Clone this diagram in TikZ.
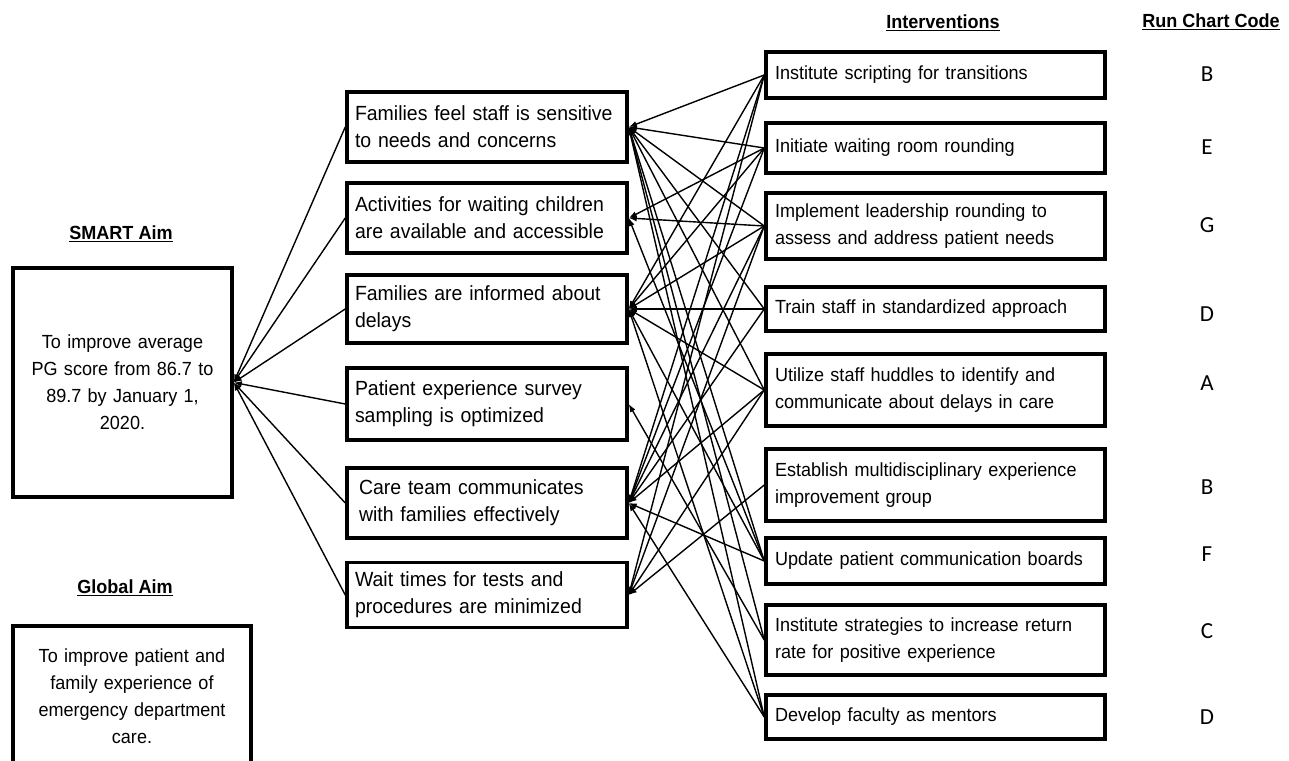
\documentclass[tikz,border=0pt]{standalone}
\usepackage{fontspec}
\setmainfont{Liberation Sans}[FakeStretch=0.95]
\newfontfamily\codefont{Carlito}
\usetikzlibrary{arrows.meta}

\tikzset{
  box/.style={draw, line width=3.5pt, inner sep=0pt, font=\fontsize{19}{27}\selectfont},
  driver/.style={box, minimum width=280pt, text width=264pt, align=left, font=\fontsize{20.5}{27}\selectfont},
  change/.style={box, minimum width=339pt, text width=321pt, align=left},
  aim/.style={box, align=center},
  head/.style={font=\fontsize{19}{23}\selectfont\bfseries},
  code/.style={font=\codefont\fontsize{23}{27}\selectfont},
  link/.style={line width=1.4pt, -{Latex[length=8pt,width=6pt]}},
}

\begin{document}
\begin{tikzpicture}[x=1pt,y=-1pt]
\useasboundingbox (0,0) rectangle (1289,760);

% headings
\node[head] (smarthead) at (121,234) {\underline{SMART Aim}};
\node[head] (globalhead) at (125,588) {\underline{Global Aim}};
\node[head] (ivhead) at (943,23) {\underline{Interventions}};
\node[head] (codehead) at (1211,22) {\underline{Run Chart Code}};

% aims
\node[aim, minimum width=219pt, minimum height=229pt, text width=199pt] (smart) at (122.5,382.5)
  {To improve average\\PG score from 86.7 to\\89.7 by January 1,\\2020.};
\node[aim, minimum width=238pt, minimum height=140pt, text width=218pt] (global) at (132,696)
  {To improve patient and\\family experience of\\emergency department\\care.};

% key drivers
\node[driver, minimum height=70pt] (feel) at (487,127) {Families feel staff is sensitive\\to needs and concerns};
\node[driver, minimum height=70pt] (play) at (487,218) {Activities for waiting children\\are available and accessible};
\node[driver, minimum height=68pt] (delay) at (487,309) {Families are informed about\\delays};
\node[driver, minimum height=72pt] (survey) at (487,404) {Patient experience survey\\sampling is optimized};
\node[driver, minimum height=70pt] (talk) at (487,503) {\hspace*{4pt}Care team communicates\\\hspace*{4pt}with families effectively};
\node[driver, minimum height=65pt] (wait) at (487,595) {Wait times for tests and\\procedures are minimized};

% interventions
\node[change, minimum height=46pt] (script) at (935.5,75) {Institute scripting for transitions};
\node[change, minimum height=50pt] (lobby) at (935.5,148) {Initiate waiting room rounding};
\node[change, minimum height=66pt] (leader) at (935.5,226) {Implement leadership rounding to\\assess and address patient needs};
\node[change, minimum height=44pt] (train) at (935.5,309) {Train staff in standardized approach};
\node[change, minimum height=72pt] (huddle) at (935.5,390) {Utilize staff huddles to identify and\\communicate about delays in care};
\node[change, minimum height=72pt] (group) at (935.5,485) {Establish multidisciplinary experience\\improvement group};
\node[change, minimum height=46pt] (board) at (935.5,561) {Update patient communication boards};
\node[change, minimum height=70pt] (rate) at (935.5,640) {Institute strategies to increase return\\rate for positive experience};
\node[change, minimum height=44pt] (mentor) at (935.5,717) {Develop faculty as mentors};

% run chart codes
\foreach \c/\y [count=\n] in {B/74, E/147, G/225, D/314, A/383, B/487, F/554, C/631, D/717}
  \node[code] (code\n) at (1207,\y) {\c};

% drivers to aim
\foreach \d in {feel, play, delay, survey, talk, wait}
  \draw[link] (\d.west) -- (smart.east);

% interventions to drivers
\foreach \i/\d in {script/feel, script/delay, script/talk, script/wait,
                   lobby/feel, lobby/play, lobby/delay, lobby/talk,
                   leader/feel, leader/play, leader/delay, leader/talk, leader/wait,
                   train/feel, train/delay, train/talk,
                   huddle/feel, huddle/delay, huddle/talk, huddle/wait,
                   group/wait,
                   board/feel, board/play, board/delay, board/talk,
                   rate/survey, rate/feel,
                   mentor/feel, mentor/delay, mentor/talk}
  \draw[link] (\i.west) -- (\d.east);
\end{tikzpicture}
\end{document}
